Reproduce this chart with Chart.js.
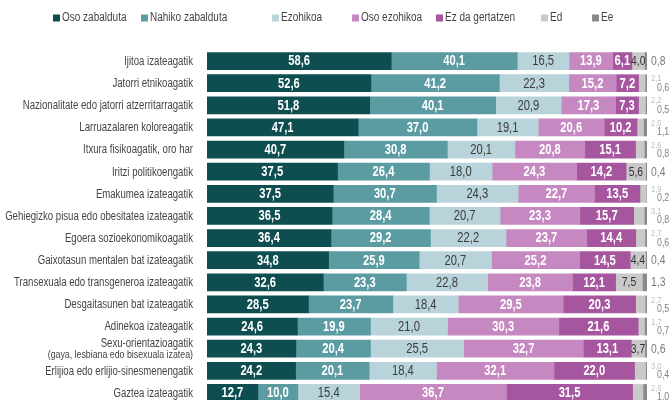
<!DOCTYPE html>
<html>
<head>
<meta charset="utf-8">
<script src="https://cdn.jsdelivr.net/npm/chart.js@4"></script>
<style>
  html, body { margin: 0; padding: 0; background: #fff; overflow: hidden; width: 672px; height: 400px; }
  canvas { display: block; }
</style>
</head>
<body>
<canvas id="chart" width="672" height="404"></canvas>
<script>
// categories (top to bottom)
const categories = [
    'Ijitoa izateagatik',
    'Jatorri etnikoagatik',
    'Nazionalitate edo jatorri atzerritarragatik',
    'Larruazalaren koloreagatik',
    'Itxura fisikoagatik, oro har',
    'Iritzi politikoengatik',
    'Emakumea izateagatik',
    'Gehiegizko pisua edo obesitatea izateagatik',
    'Egoera sozioekonomikoagatik',
    'Gaixotasun mentalen bat izateagatik',
    'Transexuala edo transgeneroa izateagatik',
    'Desgaitasunen bat izateagatik',
    'Adinekoa izateagatik',
    ['Sexu-orientazioagatik', '(gaya, lesbiana edo bisexuala izatea)'],
    'Erlijioa edo erlijio-sinesmenengatik',
    'Gaztea izateagatik'
];

const seriesNames = ['Oso zabalduta', 'Nahiko zabalduta', 'Ezohikoa', 'Oso ezohikoa', 'Ez da gertatzen', 'Ed', 'Ee'];
const seriesColors = ['#0e4e50', '#5b9ba2', '#b9d3da', '#c688c1', '#a6569f', '#c9c9c9', '#8a8a8a'];

// values as printed on the chart
const osoZabalduta    = [58.6, 52.6, 51.8, 47.1, 40.7, 37.5, 37.5, 36.5, 36.4, 34.8, 32.6, 28.5, 24.6, 24.3, 24.2, 12.7];
const nahikoZabalduta = [40.1, 41.2, 40.1, 37.0, 30.8, 26.4, 30.7, 28.4, 29.2, 25.9, 23.3, 23.7, 19.9, 20.4, 20.1, 10.0];
const ezohikoa        = [16.5, 22.3, 20.9, 19.1, 20.1, 18.0, 24.3, 20.7, 22.2, 20.7, 22.8, 18.4, 21.0, 25.5, 18.4, 15.4];
const osoEzohikoa     = [13.9, 15.2, 17.3, 20.6, 20.8, 24.3, 22.7, 23.3, 23.7, 25.2, 23.8, 29.5, 30.3, 32.7, 32.1, 36.7];
const ezDaGertatzen   = [6.1, 7.2, 7.3, 10.2, 15.1, 14.2, 13.5, 15.7, 14.4, 14.5, 12.1, 20.3, 21.6, 13.1, 22.0, 31.5];
const ed              = [4.0, 2.1, 2.2, 2.0, 2.6, 5.6, 1.9, 3.1, 2.7, 4.4, 7.5, 2.7, 1.7, 3.7, 3.0, 2.6];
const ee              = [0.8, 0.6, 0.5, 1.1, 0.8, 0.4, 0.2, 0.8, 0.6, 0.4, 1.3, 0.5, 0.7, 0.6, 0.4, 1.0];

const rawSeries = [osoZabalduta, nahikoZabalduta, ezohikoa, osoEzohikoa, ezDaGertatzen, ed, ee];

// each bar fills the full width: share of the row total
const rowTotals = categories.map((c, i) => rawSeries.reduce((s, arr) => s + arr[i], 0));

const FONT = '"Liberation Sans", Arial, sans-serif';
const SQUEEZE = 0.8; // no condensed face installed, so squeeze text horizontally

function fmt(v) {
    return v.toFixed(1).replace('.', ',');
}

function narrowText(ctx, text, x, y, align) {
    const w = ctx.measureText(text).width * SQUEEZE;
    let left = x;
    if (align === 'center') left = x - w / 2;
    else if (align === 'right') left = x - w;
    ctx.save();
    ctx.translate(left, y);
    ctx.scale(SQUEEZE, 1);
    ctx.textAlign = 'left';
    ctx.fillText(text, 0, 0);
    ctx.restore();
}

// legend drawn above the bars
const legendPlugin = {
    id: 'topLegend',
    afterDraw(chart) {
        const ctx = chart.ctx;
        const xs = [53, 141, 272, 352, 436, 541, 592];
        const y = 18;
        ctx.save();
        ctx.font = '12.5px ' + FONT;
        ctx.textBaseline = 'middle';
        seriesNames.forEach((name, i) => {
            ctx.fillStyle = seriesColors[i];
            ctx.fillRect(xs[i], y - 3.5, 7, 7);
            ctx.fillStyle = '#444';
            narrowText(ctx, name, xs[i] + 9, y, 'left');
        });
        ctx.restore();
    }
};

// category labels left of the bars
const categoryLabels = {
    id: 'categoryLabels',
    afterDraw(chart) {
        const ctx = chart.ctx;
        const yScale = chart.scales.y;
        const x = chart.chartArea.left - 14;
        ctx.save();
        ctx.textBaseline = 'middle';
        ctx.fillStyle = '#444';
        categories.forEach((label, i) => {
            const y = yScale.getPixelForTick(i);
            if (Array.isArray(label)) {
                ctx.font = '12px ' + FONT;
                narrowText(ctx, label[0], x, y - 5, 'right');
                ctx.font = '11px ' + FONT;
                narrowText(ctx, label[1], x, y + 6, 'right');
            } else {
                ctx.font = '12px ' + FONT;
                narrowText(ctx, label, x, y + 0.5, 'right');
            }
        });
        ctx.restore();
    }
};

// value labels
const valueLabels = {
    id: 'valueLabels',
    afterDatasetsDraw(chart) {
        const ctx = chart.ctx;
        const right = chart.chartArea.right;
        ctx.save();
        ctx.textBaseline = 'middle';
        chart.data.datasets.forEach((ds, di) => {
            const meta = chart.getDatasetMeta(di);
            meta.data.forEach((bar, i) => {
                const raw = rawSeries[di][i];
                const cx = (bar.x + bar.base) / 2;
                const y = bar.y + 0.5;
                if (di < 5) {
                    if (di === 2) {
                        ctx.font = '14px ' + FONT;
                        ctx.fillStyle = '#3c3c3c';
                    } else {
                        ctx.font = 'bold 14px ' + FONT;
                        ctx.fillStyle = '#ffffff';
                    }
                    narrowText(ctx, fmt(raw), cx, y, 'center');
                } else if (di === 5) {
                    if (raw >= 3.5) {
                        ctx.font = '13px ' + FONT;
                        ctx.fillStyle = '#333';
                        narrowText(ctx, fmt(raw), cx, y, 'center');
                    } else {
                        ctx.font = '9.5px ' + FONT;
                        ctx.fillStyle = '#bdbdbd';
                        narrowText(ctx, fmt(raw), right + 4, y - 5, 'left');
                    }
                } else {
                    if (ed[i] >= 3.5) {
                        ctx.font = '13px ' + FONT;
                        ctx.fillStyle = '#7a7a7a';
                        narrowText(ctx, fmt(raw), right + 4, y, 'left');
                    } else {
                        ctx.font = '11px ' + FONT;
                        ctx.fillStyle = '#808080';
                        narrowText(ctx, fmt(raw), right + 10, y + 4, 'left');
                    }
                }
            });
        });
        ctx.restore();
    }
};

new Chart(document.getElementById('chart').getContext('2d'), {
    type: 'bar',
    data: {
        labels: categories,
        datasets: rawSeries.map((arr, k) => ({
            label: seriesNames[k],
            data: arr.map((v, i) => v / rowTotals[i] * 100),
            backgroundColor: seriesColors[k],
            borderWidth: 0,
            barThickness: 17
        }))
    },
    options: {
        indexAxis: 'y',
        responsive: false,
        animation: false,
        devicePixelRatio: 1,
        layout: { padding: { top: 50, right: 25, bottom: 0, left: 0 } },
        plugins: {
            legend: { display: false },
            tooltip: { enabled: false }
        },
        scales: {
            x: {
                stacked: true,
                min: 0,
                max: 100,
                display: false
            },
            y: {
                stacked: true,
                grid: { display: false, drawTicks: false },
                border: { display: false },
                ticks: { display: false, autoSkip: false },
                afterFit(scale) {
                    scale.width = 207;
                }
            }
        }
    },
    plugins: [legendPlugin, categoryLabels, valueLabels]
});
</script>
</body>
</html>
